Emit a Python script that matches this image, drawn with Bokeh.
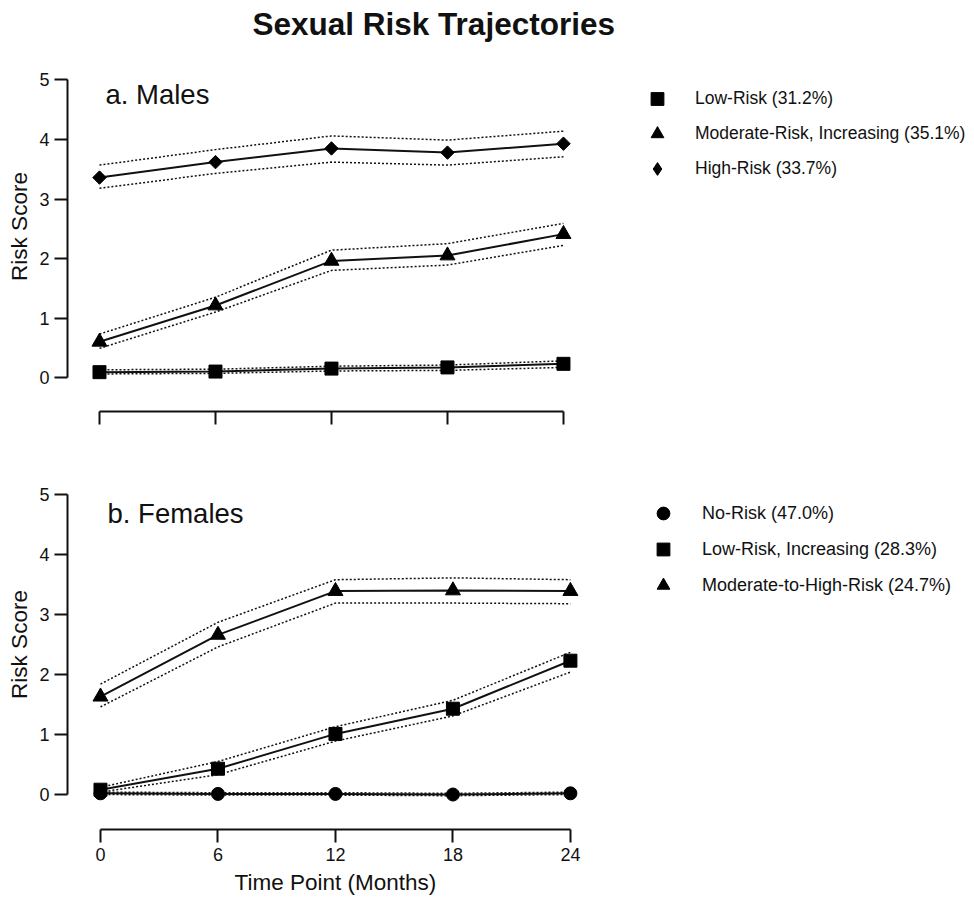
import math
from bokeh.plotting import figure
from bokeh.models import Legend, LegendItem, Label, FixedTicker, Title
from bokeh.layouts import column
from bokeh.embed import file_html
from bokeh.resources import INLINE

FONT = "Liberation Sans"
INK = "#111111"

months = [0, 6, 12, 18, 24]
y_ticks = [0, 1, 2, 3, 4, 5]

# ---- a. Males ----
m_low = [0.09, 0.10, 0.15, 0.17, 0.23]
m_low_hi = [0.13, 0.14, 0.19, 0.21, 0.28]
m_low_lo = [0.06, 0.07, 0.11, 0.12, 0.17]
m_mod = [0.60, 1.21, 1.96, 2.05, 2.41]
m_mod_hi = [0.73, 1.35, 2.14, 2.25, 2.59]
m_mod_lo = [0.49, 1.10, 1.80, 1.89, 2.22]
m_high = [3.36, 3.62, 3.85, 3.78, 3.93]
m_high_hi = [3.57, 3.83, 4.06, 3.99, 4.14]
m_high_lo = [3.18, 3.43, 3.62, 3.57, 3.71]
m_labels = ["Low-Risk (31.2%)", "Moderate-Risk, Increasing (35.1%)", "High-Risk (33.7%)"]

# ---- b. Females ----
f_no = [0.02, 0.01, 0.01, 0.00, 0.02]
f_no_hi = [0.04, 0.03, 0.03, 0.02, 0.04]
f_no_lo = [0.00, -0.01, -0.01, -0.02, 0.00]
f_low = [0.08, 0.43, 1.01, 1.43, 2.23]
f_low_hi = [0.12, 0.55, 1.13, 1.57, 2.37]
f_low_lo = [0.04, 0.33, 0.89, 1.31, 2.04]
f_mod = [1.63, 2.66, 3.39, 3.40, 3.39]
f_mod_hi = [1.84, 2.87, 3.58, 3.61, 3.58]
f_mod_lo = [1.46, 2.46, 3.19, 3.19, 3.18]
f_labels = ["No-Risk (47.0%)", "Low-Risk, Increasing (28.3%)", "Moderate-to-High-Risk (24.7%)"]

TITLE = "Sexual Risk Trajectories"
Y_TITLE = "Risk Score"
X_TITLE = "Time Point (Months)"


def style_axes(p, show_x_labels):
    for ax in (p.xaxis[0], p.yaxis[0]):
        ax.axis_line_width = 2
        ax.axis_line_color = INK
        ax.major_tick_line_width = 2
        ax.major_tick_line_color = INK
        ax.major_tick_in = 0
        ax.major_tick_out = 13
        ax.minor_tick_line_color = None
        ax.major_label_text_font = FONT
        ax.major_label_text_font_size = "18px"
        ax.major_label_text_color = INK
        ax.axis_label_text_font = FONT
        ax.axis_label_text_font_style = "normal"
        ax.axis_label_text_color = INK
        ax.axis_label_text_font_size = "22.5px"
    p.xaxis.ticker = FixedTicker(ticks=months)
    p.xaxis.bounds = (months[0], months[-1])
    p.yaxis.ticker = FixedTicker(ticks=y_ticks)
    p.yaxis.bounds = (y_ticks[0], y_ticks[-1])
    p.yaxis.axis_label = Y_TITLE
    p.yaxis.major_label_standoff = 5
    p.yaxis.axis_label_standoff = 4
    p.xaxis.major_label_standoff = 5
    if not show_x_labels:
        p.xaxis.major_label_overrides = {m: "" for m in months}
    p.xgrid.grid_line_color = None
    p.ygrid.grid_line_color = None
    p.outline_line_color = None


def series(p, y, hi, lo, marker, size, angle=0.0):
    p.line(months, hi, line_color=INK, line_width=1.5, line_dash="2 2")
    p.line(months, lo, line_color=INK, line_width=1.5, line_dash="2 2")
    p.line(months, y, line_color=INK, line_width=2)
    return p.scatter(months, y, marker=marker, size=size, angle=angle,
                     fill_color="black", line_color="black")


# ---------------- top panel ----------------
p1 = figure(frame_width=900, frame_height=370,
            x_range=(-1.655, 44.9), y_range=(-0.571, 5.647),
            min_border_left=67, min_border_right=5, min_border_top=41, min_border_bottom=40,
            output_backend="svg", toolbar_location=None)
p1.title = Title(text=TITLE, align="left", offset=185,
                 text_font=FONT, text_font_size="31.5px", text_font_style="bold",
                 text_color=INK, standoff=0)
style_axes(p1, False)

r_m_low = series(p1, m_low, m_low_hi, m_low_lo, "square", 13)
r_m_mod = series(p1, m_mod, m_mod_hi, m_mod_lo, "triangle", 15)
series(p1, m_high, m_high_hi, m_high_lo, "square", 9.5, math.pi / 4)
# legend swatch for the diamond series (legend swatches are drawn unrotated)
r_m_high_key = p1.scatter(x=[math.nan], y=[math.nan], marker="diamond",
                          fill_color="black", line_color="black")

p1.add_layout(Label(x=0.31, y=4.75, text="a. Males", text_font=FONT, text_font_size="27.5px",
                    text_color=INK, text_baseline="alphabetic"))

leg1 = Legend(items=[LegendItem(label=m_labels[0], renderers=[r_m_low]),
                     LegendItem(label=m_labels[1], renderers=[r_m_mod]),
                     LegendItem(label=m_labels[2], renderers=[r_m_high_key])],
              location=(574, 225), glyph_width=32, glyph_height=35, spacing=0,
              label_standoff=22, padding=0, margin=0,
              label_text_font=FONT, label_text_font_size="17.5px", label_text_color=INK,
              background_fill_alpha=0, border_line_alpha=0)
p1.add_layout(leg1)

# ---------------- bottom panel ----------------
p2 = figure(frame_width=900, frame_height=370,
            x_range=(-1.685, 44.28), y_range=(-0.583, 5.583),
            min_border_left=67, min_border_right=5, min_border_top=8, min_border_bottom=70,
            output_backend="svg", toolbar_location=None)
style_axes(p2, True)
p2.add_layout(Title(text=X_TITLE, align="left", offset=167, standoff=9,
                    text_font=FONT, text_font_size="22.5px", text_font_style="normal",
                    text_color=INK), "below")

r_f_no = series(p2, f_no, f_no_hi, f_no_lo, "circle", 13)
r_f_low = series(p2, f_low, f_low_hi, f_low_lo, "square", 13)
r_f_mod = series(p2, f_mod, f_mod_hi, f_mod_lo, "triangle", 15)

p2.add_layout(Label(x=0.36, y=4.69, text="b. Females", text_font=FONT, text_font_size="27.5px",
                    text_color=INK, text_baseline="alphabetic"))

leg2 = Legend(items=[LegendItem(label=f_labels[0], renderers=[r_f_no]),
                     LegendItem(label=f_labels[1], renderers=[r_f_low]),
                     LegendItem(label=f_labels[2], renderers=[r_f_mod])],
              location=(580, 226), glyph_width=32, glyph_height=36, spacing=0,
              label_standoff=23, padding=0, margin=0,
              label_text_font=FONT, label_text_font_size="18px", label_text_color=INK,
              background_fill_alpha=0, border_line_alpha=0)
p2.add_layout(leg2)

layout = column(p1, p2, spacing=0)
open("out.html", "w").write(file_html(layout, INLINE))
